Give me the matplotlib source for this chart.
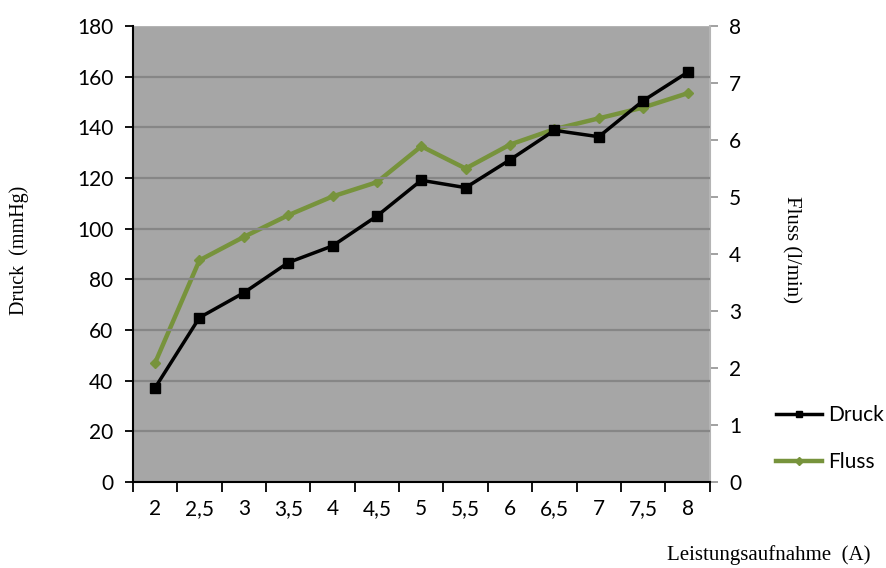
import matplotlib.pyplot as plt
import numpy as np

# Leistungsaufnahme in A (category axis)
leistung = ["2", "2,5", "3", "3,5", "4", "4,5", "5", "5,5", "6", "6,5", "7", "7,5", "8"]
druck = [37.2, 64.9, 74.7, 86.6, 93.2, 105.0, 119.1, 116.2, 127.2, 138.8, 136.3, 150.5, 161.7]
fluss = [2.09, 3.89, 4.30, 4.68, 5.01, 5.26, 5.89, 5.50, 5.92, 6.19, 6.38, 6.57, 6.82]

tick_font = "Lato"
title_font = "Liberation Serif"
plot_box = [0.150, 0.1514, 0.651, 0.8028]

fig = plt.figure(figsize=(8.86, 5.68), dpi=100)
# grey plot background sits behind both axes
fig.patches.append(plt.Rectangle(plot_box[:2], plot_box[2], plot_box[3], transform=fig.transFigure,
                                 facecolor="#a6a6a6", edgecolor="none", zorder=-10))

ax2 = fig.add_axes(plot_box)
ax = fig.add_axes(plot_box, sharex=ax2)
ax.patch.set_visible(False)
ax2.patch.set_visible(False)

x = np.arange(len(leistung))

ax.set_ylim(0, 180)
ax.set_yticks(np.arange(0, 181, 20))
ax.set_xlim(-0.5, len(leistung) - 0.5)
ax.yaxis.grid(True, color="#868686", linewidth=1.6)
ax.set_axisbelow(True)
gl = ax.get_ygridlines()
gl[-1].set_color("#b4b4b4")

# ticks between categories, labels centred on them
ax.set_xticks(np.arange(-0.5, len(leistung), 1.0))
ax.set_xticklabels([])
ax.set_xticks(x, minor=True)
ax.set_xticklabels(leistung, minor=True)
ax.tick_params(axis="x", which="major", length=7, width=1.3, color="black", direction="out")
ax.tick_params(axis="x", which="minor", length=0, pad=12)
ax.tick_params(axis="y", length=6, width=1.3, color="black", pad=8)
for lab in ax.get_xticklabels(minor=True) + ax.get_yticklabels():
    lab.set_fontfamily(tick_font)
    lab.set_fontsize(15)

for side in ["top", "right"]:
    ax.spines[side].set_visible(False)
for side in ["left", "bottom"]:
    ax.spines[side].set_color("black")
    ax.spines[side].set_linewidth(1.5)

# Fluss on the right-hand scale
ax2.yaxis.tick_right()
ax2.set_ylim(0, 8)
ax2.set_yticks(np.arange(0, 9, 1))
ax2.tick_params(axis="y", length=6, width=1.3, color="#9a9a9a", pad=8)
ax2.tick_params(axis="x", which="both", length=0, labelbottom=False)
for lab in ax2.get_yticklabels():
    lab.set_fontfamily(tick_font)
    lab.set_fontsize(15)
for side in ["top", "left", "bottom"]:
    ax2.spines[side].set_visible(False)
ax2.spines["right"].set_color("#b4b4b4")
ax2.spines["right"].set_linewidth(1.5)

l2, = ax2.plot(x, fluss, color="#77933c", linewidth=3.2, marker="D", markersize=5,
               label="Fluss")
l1, = ax.plot(x, druck, color="black", linewidth=2.5, marker="s", markersize=6.5,
              label="Druck")

fig.legend([l1, l2], ["Druck", "Fluss"], loc="upper left", bbox_to_anchor=(0.855, 0.32),
           frameon=False, prop={"family": tick_font, "size": 15}, handlelength=2.2,
           labelspacing=1.3, handletextpad=0.3, markerscale=0.75)

fig.text(0.022, 0.56, "Druck  (mmHg)", rotation=90, va="center", ha="center",
         family=title_font, fontsize=14.5)
fig.text(0.893, 0.56, "Fluss (l/min)", rotation=-90, va="center", ha="center",
         family=title_font, fontsize=15)
fig.text(0.982, 0.023, "Leistungsaufnahme  (A)", ha="right", va="center",
         family=title_font, fontsize=15)

fig.savefig("out.png", dpi=100)
